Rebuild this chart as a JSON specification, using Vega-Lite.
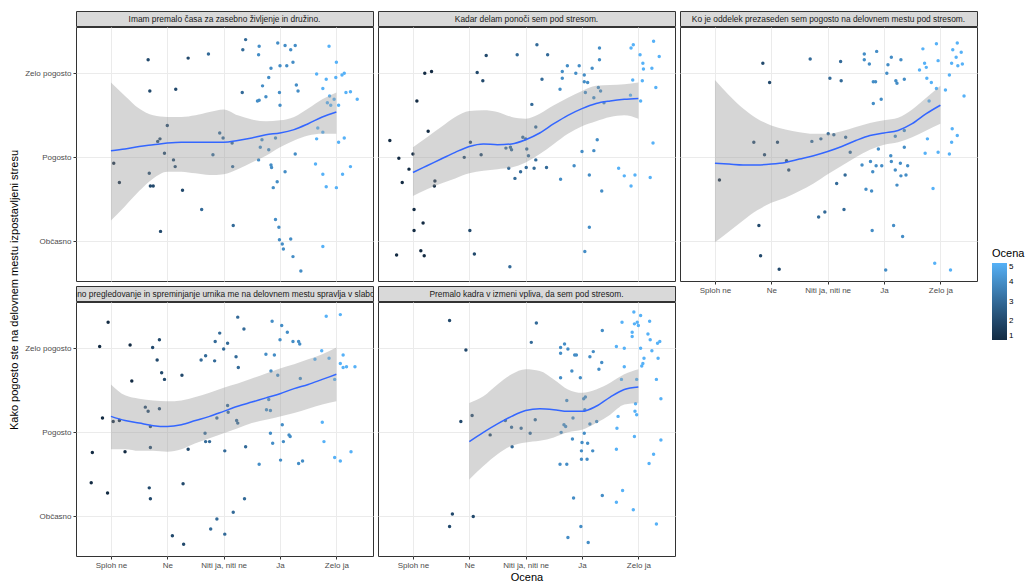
{
"$schema": "https://vega.github.io/schema/vega-lite/v6.json",
"padding": {"left": 9, "top": 10, "right": 2, "bottom": 2},
"datasets": {
"strips": [
{"p":1,"t":"Imam premalo časa za zasebno življenje in družino."},
{"p":2,"t":"Kadar delam ponoči sem pod stresom."},
{"p":3,"t":"Ko je oddelek prezaseden sem pogosto na delovnem mestu pod stresom."},
{"p":4,"t":"Nenehno pregledovanje in spreminjanje urnika me na delovnem mestu spravlja v slabo voljo."},
{"p":5,"t":"Premalo kadra v izmeni vpliva, da sem pod stresom."}
],
"sm": [
{"p":1,"x":1,"y":3.08,"lo":2.25,"hi":3.89},{"p":1,"x":1.25,"y":3.10,"lo":2.42,"hi":3.73},{"p":1,"x":1.5,"y":3.13,"lo":2.60,"hi":3.58},{"p":1,"x":1.75,"y":3.15,"lo":2.75,"hi":3.50},{"p":1,"x":2,"y":3.17,"lo":2.83,"hi":3.48},{"p":1,"x":2.25,"y":3.18,"lo":2.83,"hi":3.48},{"p":1,"x":2.5,"y":3.18,"lo":2.81,"hi":3.50},{"p":1,"x":2.75,"y":3.18,"lo":2.79,"hi":3.54},{"p":1,"x":3,"y":3.18,"lo":2.80,"hi":3.57},{"p":1,"x":3.25,"y":3.20,"lo":2.86,"hi":3.50},{"p":1,"x":3.5,"y":3.23,"lo":2.94,"hi":3.45},{"p":1,"x":3.75,"y":3.27,"lo":3.02,"hi":3.43},{"p":1,"x":4,"y":3.29,"lo":3.12,"hi":3.44},{"p":1,"x":4.25,"y":3.33,"lo":3.20,"hi":3.48},{"p":1,"x":4.5,"y":3.40,"lo":3.26,"hi":3.58},{"p":1,"x":4.75,"y":3.48,"lo":3.28,"hi":3.69},{"p":1,"x":5,"y":3.54,"lo":3.28,"hi":3.77},
{"p":2,"x":1,"y":2.82,"lo":2.54,"hi":3.12},{"p":2,"x":1.25,"y":2.90,"lo":2.62,"hi":3.24},{"p":2,"x":1.5,"y":2.98,"lo":2.69,"hi":3.36},{"p":2,"x":1.75,"y":3.06,"lo":2.75,"hi":3.48},{"p":2,"x":2,"y":3.13,"lo":2.81,"hi":3.55},{"p":2,"x":2.25,"y":3.16,"lo":2.84,"hi":3.56},{"p":2,"x":2.5,"y":3.15,"lo":2.86,"hi":3.54},{"p":2,"x":2.75,"y":3.16,"lo":2.88,"hi":3.48},{"p":2,"x":3,"y":3.21,"lo":2.94,"hi":3.46},{"p":2,"x":3.25,"y":3.29,"lo":3.04,"hi":3.52},{"p":2,"x":3.5,"y":3.40,"lo":3.16,"hi":3.62},{"p":2,"x":3.75,"y":3.50,"lo":3.28,"hi":3.71},{"p":2,"x":4,"y":3.58,"lo":3.37,"hi":3.79},{"p":2,"x":4.25,"y":3.64,"lo":3.43,"hi":3.85},{"p":2,"x":4.5,"y":3.67,"lo":3.48,"hi":3.86},{"p":2,"x":4.75,"y":3.69,"lo":3.50,"hi":3.87},{"p":2,"x":5,"y":3.70,"lo":3.46,"hi":3.89},
{"p":3,"x":1,"y":2.93,"lo":1.99,"hi":3.92},{"p":3,"x":1.25,"y":2.92,"lo":2.12,"hi":3.74},{"p":3,"x":1.5,"y":2.91,"lo":2.25,"hi":3.58},{"p":3,"x":1.75,"y":2.91,"lo":2.37,"hi":3.46},{"p":3,"x":2,"y":2.92,"lo":2.46,"hi":3.38},{"p":3,"x":2.25,"y":2.94,"lo":2.52,"hi":3.33},{"p":3,"x":2.5,"y":2.98,"lo":2.60,"hi":3.30},{"p":3,"x":2.75,"y":3.02,"lo":2.69,"hi":3.28},{"p":3,"x":3,"y":3.07,"lo":2.80,"hi":3.28},{"p":3,"x":3.25,"y":3.13,"lo":2.90,"hi":3.31},{"p":3,"x":3.5,"y":3.20,"lo":3.00,"hi":3.36},{"p":3,"x":3.75,"y":3.26,"lo":3.09,"hi":3.41},{"p":3,"x":4,"y":3.29,"lo":3.15,"hi":3.44},{"p":3,"x":4.25,"y":3.32,"lo":3.18,"hi":3.47},{"p":3,"x":4.5,"y":3.40,"lo":3.24,"hi":3.57},{"p":3,"x":4.75,"y":3.52,"lo":3.32,"hi":3.71},{"p":3,"x":5,"y":3.62,"lo":3.40,"hi":3.85},
{"p":4,"x":1,"y":3.19,"lo":2.80,"hi":3.57},{"p":4,"x":1.25,"y":3.14,"lo":2.80,"hi":3.44},{"p":4,"x":1.5,"y":3.11,"lo":2.78,"hi":3.40},{"p":4,"x":1.75,"y":3.08,"lo":2.78,"hi":3.38},{"p":4,"x":2,"y":3.07,"lo":2.77,"hi":3.37},{"p":4,"x":2.25,"y":3.09,"lo":2.80,"hi":3.38},{"p":4,"x":2.5,"y":3.14,"lo":2.87,"hi":3.42},{"p":4,"x":2.75,"y":3.19,"lo":2.93,"hi":3.47},{"p":4,"x":3,"y":3.25,"lo":2.99,"hi":3.53},{"p":4,"x":3.25,"y":3.31,"lo":3.05,"hi":3.58},{"p":4,"x":3.5,"y":3.36,"lo":3.11,"hi":3.64},{"p":4,"x":3.75,"y":3.41,"lo":3.15,"hi":3.70},{"p":4,"x":4,"y":3.46,"lo":3.19,"hi":3.76},{"p":4,"x":4.25,"y":3.52,"lo":3.23,"hi":3.81},{"p":4,"x":4.5,"y":3.57,"lo":3.28,"hi":3.87},{"p":4,"x":4.75,"y":3.63,"lo":3.33,"hi":3.93},{"p":4,"x":5,"y":3.69,"lo":3.37,"hi":4.01},
{"p":5,"x":2,"y":2.89,"lo":2.44,"hi":3.35},{"p":5,"x":2.25,"y":3.00,"lo":2.60,"hi":3.43},{"p":5,"x":2.5,"y":3.10,"lo":2.74,"hi":3.57},{"p":5,"x":2.75,"y":3.19,"lo":2.84,"hi":3.69},{"p":5,"x":3,"y":3.26,"lo":2.88,"hi":3.75},{"p":5,"x":3.25,"y":3.28,"lo":2.90,"hi":3.73},{"p":5,"x":3.5,"y":3.27,"lo":2.94,"hi":3.63},{"p":5,"x":3.75,"y":3.25,"lo":3.00,"hi":3.51},{"p":5,"x":4,"y":3.25,"lo":3.03,"hi":3.47},{"p":5,"x":4.25,"y":3.31,"lo":3.11,"hi":3.51},{"p":5,"x":4.5,"y":3.42,"lo":3.21,"hi":3.59},{"p":5,"x":4.75,"y":3.51,"lo":3.33,"hi":3.69},{"p":5,"x":5,"y":3.54,"lo":3.35,"hi":3.75}
],
"pts": [
{"p":1,"x":3.39,"y":4.40,"o":3},{"p":1,"x":3.34,"y":4.28,"o":3},{"p":1,"x":3.63,"y":4.32,"o":4},{"p":1,"x":3.62,"y":4.22,"o":4},{"p":1,"x":3.96,"y":4.36,"o":4},{"p":1,"x":4.09,"y":4.33,"o":4},{"p":1,"x":4.19,"y":4.28,"o":4},{"p":1,"x":4.27,"y":4.33,"o":4},{"p":1,"x":4.87,"y":4.32,"o":5},{"p":1,"x":1.66,"y":4.16,"o":2},
{"p":1,"x":2.37,"y":4.18,"o":2},{"p":1,"x":2.73,"y":4.23,"o":3},{"p":1,"x":3.84,"y":4.06,"o":4},{"p":1,"x":4.00,"y":4.09,"o":4},{"p":1,"x":4.12,"y":4.09,"o":4},{"p":1,"x":4.23,"y":4.13,"o":4},{"p":1,"x":3.80,"y":3.95,"o":4},{"p":1,"x":5.00,"y":4.13,"o":5},{"p":1,"x":4.65,"y":3.99,"o":5},{"p":1,"x":4.82,"y":3.93,"o":5},
{"p":1,"x":4.99,"y":3.95,"o":5},{"p":1,"x":5.10,"y":3.98,"o":5},{"p":1,"x":5.14,"y":4.00,"o":5},{"p":1,"x":1.69,"y":3.79,"o":2},{"p":1,"x":2.15,"y":3.81,"o":2},{"p":1,"x":3.33,"y":3.77,"o":3},{"p":1,"x":3.69,"y":3.85,"o":4},{"p":1,"x":3.63,"y":3.68,"o":4},{"p":1,"x":3.60,"y":3.67,"o":4},{"p":1,"x":3.75,"y":3.72,"o":4},
{"p":1,"x":3.99,"y":3.77,"o":4},{"p":1,"x":4.00,"y":3.62,"o":4},{"p":1,"x":4.29,"y":3.86,"o":4},{"p":1,"x":4.32,"y":3.79,"o":4},{"p":1,"x":4.76,"y":3.82,"o":5},{"p":1,"x":4.88,"y":3.73,"o":5},{"p":1,"x":4.96,"y":3.69,"o":5},{"p":1,"x":5.17,"y":3.77,"o":5},{"p":1,"x":5.25,"y":3.78,"o":5},{"p":1,"x":5.37,"y":3.69,"o":5},
{"p":1,"x":4.84,"y":3.65,"o":5},{"p":1,"x":4.90,"y":3.62,"o":5},{"p":1,"x":5.04,"y":3.62,"o":5},{"p":1,"x":2.00,"y":3.38,"o":2},{"p":1,"x":1.87,"y":3.22,"o":2},{"p":1,"x":1.83,"y":3.19,"o":2},{"p":1,"x":2.93,"y":3.29,"o":3},{"p":1,"x":2.99,"y":3.23,"o":3},{"p":1,"x":3.15,"y":3.17,"o":3},{"p":1,"x":3.68,"y":3.21,"o":4},
{"p":1,"x":3.92,"y":3.23,"o":4},{"p":1,"x":3.65,"y":3.12,"o":4},{"p":1,"x":3.80,"y":3.09,"o":4},{"p":1,"x":4.67,"y":3.35,"o":5},{"p":1,"x":4.76,"y":3.30,"o":5},{"p":1,"x":4.65,"y":3.22,"o":5},{"p":1,"x":5.04,"y":3.18,"o":5},{"p":1,"x":5.14,"y":3.23,"o":5},{"p":1,"x":1.95,"y":3.05,"o":2},{"p":1,"x":2.11,"y":2.97,"o":2},
{"p":1,"x":2.81,"y":3.03,"o":3},{"p":1,"x":1.05,"y":2.93,"o":1},{"p":1,"x":2.14,"y":2.89,"o":2},{"p":1,"x":3.16,"y":2.89,"o":3},{"p":1,"x":3.62,"y":2.97,"o":4},{"p":1,"x":3.84,"y":2.91,"o":4},{"p":1,"x":3.85,"y":2.88,"o":4},{"p":1,"x":4.09,"y":2.83,"o":4},{"p":1,"x":4.27,"y":3.04,"o":4},{"p":1,"x":4.63,"y":2.92,"o":5},
{"p":1,"x":5.25,"y":2.89,"o":5},{"p":1,"x":1.15,"y":2.70,"o":1},{"p":1,"x":1.68,"y":2.81,"o":2},{"p":1,"x":1.70,"y":2.66,"o":2},{"p":1,"x":1.75,"y":2.66,"o":2},{"p":1,"x":2.27,"y":2.61,"o":2},{"p":1,"x":3.95,"y":2.71,"o":4},{"p":1,"x":3.88,"y":2.64,"o":4},{"p":1,"x":4.76,"y":2.80,"o":5},{"p":1,"x":4.82,"y":2.65,"o":5},
{"p":1,"x":5.00,"y":2.64,"o":5},{"p":1,"x":5.11,"y":2.80,"o":5},{"p":1,"x":2.61,"y":2.38,"o":3},{"p":1,"x":3.17,"y":2.19,"o":3},{"p":1,"x":3.92,"y":2.26,"o":4},{"p":1,"x":3.98,"y":2.17,"o":4},{"p":1,"x":1.88,"y":2.12,"o":2},{"p":1,"x":3.99,"y":2.02,"o":4},{"p":1,"x":4.06,"y":1.91,"o":4},{"p":1,"x":4.19,"y":2.03,"o":4},
{"p":1,"x":4.04,"y":1.97,"o":4},{"p":1,"x":4.76,"y":1.94,"o":5},{"p":1,"x":4.23,"y":1.82,"o":4},{"p":1,"x":4.37,"y":1.65,"o":4},
{"p":2,"x":3.20,"y":4.34,"o":3},{"p":2,"x":2.85,"y":4.22,"o":3},{"p":2,"x":2.30,"y":4.21,"o":2},{"p":2,"x":3.39,"y":4.22,"o":3},{"p":2,"x":4.31,"y":4.30,"o":4},{"p":2,"x":4.31,"y":4.16,"o":4},{"p":2,"x":4.87,"y":4.30,"o":5},{"p":2,"x":4.91,"y":4.34,"o":5},{"p":2,"x":5.27,"y":4.38,"o":5},{"p":2,"x":5.03,"y":4.22,"o":5},
{"p":2,"x":5.08,"y":4.12,"o":5},{"p":2,"x":5.09,"y":4.05,"o":5},{"p":2,"x":5.37,"y":4.20,"o":5},{"p":2,"x":5.24,"y":4.06,"o":5},{"p":2,"x":1.21,"y":4.00,"o":1},{"p":2,"x":1.33,"y":4.02,"o":1},{"p":2,"x":2.14,"y":4.01,"o":2},{"p":2,"x":2.24,"y":3.91,"o":2},{"p":2,"x":3.29,"y":3.93,"o":3},{"p":2,"x":3.65,"y":4.02,"o":4},
{"p":2,"x":3.74,"y":4.09,"o":4},{"p":2,"x":3.95,"y":4.09,"o":4},{"p":2,"x":3.89,"y":4.00,"o":4},{"p":2,"x":4.04,"y":3.98,"o":4},{"p":2,"x":4.18,"y":4.06,"o":4},{"p":2,"x":3.65,"y":3.94,"o":4},{"p":2,"x":4.04,"y":3.90,"o":4},{"p":2,"x":4.10,"y":3.89,"o":4},{"p":2,"x":3.61,"y":3.81,"o":4},{"p":2,"x":4.06,"y":3.77,"o":4},
{"p":2,"x":4.29,"y":3.83,"o":4},{"p":2,"x":4.33,"y":3.79,"o":4},{"p":2,"x":4.21,"y":3.71,"o":4},{"p":2,"x":4.90,"y":3.92,"o":5},{"p":2,"x":5.07,"y":3.91,"o":5},{"p":2,"x":5.31,"y":3.83,"o":5},{"p":2,"x":1.07,"y":3.67,"o":1},{"p":2,"x":3.11,"y":3.63,"o":3},{"p":2,"x":4.86,"y":3.74,"o":5},{"p":2,"x":4.39,"y":3.65,"o":4},
{"p":2,"x":5.04,"y":3.67,"o":5},{"p":2,"x":1.27,"y":3.31,"o":1},{"p":2,"x":3.18,"y":3.36,"o":3},{"p":2,"x":0.59,"y":3.20,"o":1},{"p":2,"x":2.02,"y":3.18,"o":2},{"p":2,"x":2.95,"y":3.24,"o":3},{"p":2,"x":3.00,"y":3.22,"o":3},{"p":2,"x":2.65,"y":3.11,"o":3},{"p":2,"x":2.73,"y":3.12,"o":3},{"p":2,"x":2.75,"y":3.09,"o":3},
{"p":2,"x":3.02,"y":3.10,"o":3},{"p":2,"x":0.75,"y":2.99,"o":1},{"p":2,"x":1.00,"y":3.04,"o":1},{"p":2,"x":1.91,"y":3.00,"o":2},{"p":2,"x":2.21,"y":3.03,"o":2},{"p":2,"x":3.05,"y":3.02,"o":3},{"p":2,"x":3.18,"y":2.97,"o":3},{"p":2,"x":4.27,"y":3.21,"o":4},{"p":2,"x":5.26,"y":3.17,"o":5},{"p":2,"x":0.93,"y":2.86,"o":1},
{"p":2,"x":0.81,"y":2.70,"o":1},{"p":2,"x":1.39,"y":2.72,"o":1},{"p":2,"x":1.38,"y":2.66,"o":1},{"p":2,"x":2.70,"y":2.87,"o":3},{"p":2,"x":2.81,"y":2.75,"o":3},{"p":2,"x":2.91,"y":2.83,"o":3},{"p":2,"x":3.01,"y":2.88,"o":3},{"p":2,"x":3.15,"y":2.87,"o":3},{"p":2,"x":3.37,"y":2.88,"o":3},{"p":2,"x":3.62,"y":2.74,"o":4},
{"p":2,"x":3.86,"y":2.90,"o":4},{"p":2,"x":4.00,"y":3.07,"o":4},{"p":2,"x":4.21,"y":3.08,"o":4},{"p":2,"x":4.13,"y":2.79,"o":4},{"p":2,"x":4.35,"y":2.60,"o":4},{"p":2,"x":4.65,"y":2.87,"o":5},{"p":2,"x":4.75,"y":2.78,"o":5},{"p":2,"x":4.94,"y":2.79,"o":5},{"p":2,"x":4.87,"y":2.66,"o":5},{"p":2,"x":5.21,"y":2.76,"o":5},
{"p":2,"x":1.02,"y":2.38,"o":1},{"p":2,"x":1.18,"y":2.22,"o":1},{"p":2,"x":1.02,"y":2.13,"o":1},{"p":2,"x":2.01,"y":2.13,"o":2},{"p":2,"x":4.13,"y":2.17,"o":4},{"p":2,"x":0.71,"y":1.84,"o":1},{"p":2,"x":1.14,"y":1.89,"o":1},{"p":2,"x":1.20,"y":1.83,"o":1},{"p":2,"x":2.09,"y":1.85,"o":2},{"p":2,"x":4.05,"y":1.88,"o":4},
{"p":2,"x":2.72,"y":1.70,"o":3},
{"p":3,"x":3.65,"y":4.23,"o":4},{"p":3,"x":3.65,"y":4.16,"o":4},{"p":3,"x":3.74,"y":4.11,"o":4},{"p":3,"x":3.87,"y":4.26,"o":4},{"p":3,"x":4.13,"y":4.19,"o":4},{"p":3,"x":4.07,"y":4.10,"o":4},{"p":3,"x":4.30,"y":4.16,"o":4},{"p":3,"x":4.05,"y":4.00,"o":4},{"p":3,"x":3.85,"y":3.90,"o":4},{"p":3,"x":3.81,"y":3.90,"o":4},
{"p":3,"x":4.21,"y":3.91,"o":4},{"p":3,"x":4.23,"y":3.88,"o":4},{"p":3,"x":4.36,"y":3.93,"o":4},{"p":3,"x":4.69,"y":4.29,"o":5},{"p":3,"x":4.93,"y":4.35,"o":5},{"p":3,"x":4.72,"y":4.12,"o":5},{"p":3,"x":4.63,"y":4.04,"o":5},{"p":3,"x":4.75,"y":4.07,"o":5},{"p":3,"x":4.96,"y":4.15,"o":5},{"p":3,"x":4.76,"y":3.94,"o":5},
{"p":3,"x":4.84,"y":3.89,"o":5},{"p":3,"x":5.22,"y":4.28,"o":5},{"p":3,"x":5.30,"y":4.36,"o":5},{"p":3,"x":5.37,"y":4.25,"o":5},{"p":3,"x":5.28,"y":4.19,"o":5},{"p":3,"x":5.20,"y":4.12,"o":5},{"p":3,"x":5.31,"y":4.09,"o":5},{"p":3,"x":5.39,"y":4.11,"o":5},{"p":3,"x":5.16,"y":3.98,"o":5},{"p":3,"x":1.85,"y":4.12,"o":2},
{"p":3,"x":1.97,"y":3.89,"o":2},{"p":3,"x":2.69,"y":4.17,"o":3},{"p":3,"x":3.23,"y":4.14,"o":3},{"p":3,"x":3.04,"y":3.94,"o":3},{"p":3,"x":3.24,"y":3.91,"o":3},{"p":3,"x":5.09,"y":3.80,"o":5},{"p":3,"x":5.42,"y":3.73,"o":5},{"p":3,"x":3.81,"y":3.64,"o":4},{"p":3,"x":3.95,"y":3.69,"o":4},{"p":3,"x":4.80,"y":3.67,"o":5},
{"p":3,"x":4.93,"y":3.82,"o":5},{"p":3,"x":5.21,"y":3.34,"o":5},{"p":3,"x":5.30,"y":3.26,"o":5},{"p":3,"x":1.69,"y":3.18,"o":2},{"p":3,"x":1.88,"y":3.03,"o":2},{"p":3,"x":2.11,"y":3.18,"o":2},{"p":3,"x":2.72,"y":3.19,"o":3},{"p":3,"x":2.88,"y":3.22,"o":3},{"p":3,"x":3.01,"y":3.28,"o":3},{"p":3,"x":3.11,"y":3.27,"o":3},
{"p":3,"x":3.32,"y":3.24,"o":3},{"p":3,"x":3.40,"y":3.06,"o":3},{"p":3,"x":2.27,"y":2.96,"o":2},{"p":3,"x":2.31,"y":2.85,"o":2},{"p":3,"x":4.20,"y":3.25,"o":4},{"p":3,"x":4.36,"y":3.32,"o":4},{"p":3,"x":4.77,"y":3.22,"o":5},{"p":3,"x":5.20,"y":3.18,"o":5},{"p":3,"x":3.90,"y":3.10,"o":4},{"p":3,"x":4.36,"y":3.12,"o":4},
{"p":3,"x":4.73,"y":3.05,"o":5},{"p":3,"x":4.96,"y":3.06,"o":5},{"p":3,"x":5.16,"y":3.04,"o":5},{"p":3,"x":3.61,"y":2.91,"o":4},{"p":3,"x":3.76,"y":2.95,"o":4},{"p":3,"x":3.86,"y":2.90,"o":4},{"p":3,"x":3.96,"y":2.90,"o":4},{"p":3,"x":4.12,"y":3.02,"o":4},{"p":3,"x":4.13,"y":2.95,"o":4},{"p":3,"x":4.29,"y":2.93,"o":4},
{"p":3,"x":4.42,"y":2.90,"o":4},{"p":3,"x":3.80,"y":2.83,"o":4},{"p":3,"x":4.20,"y":2.85,"o":4},{"p":3,"x":4.30,"y":2.78,"o":4},{"p":3,"x":4.39,"y":2.79,"o":4},{"p":3,"x":4.23,"y":2.67,"o":4},{"p":3,"x":4.87,"y":2.63,"o":5},{"p":3,"x":3.16,"y":2.69,"o":3},{"p":3,"x":3.31,"y":2.79,"o":3},{"p":3,"x":1.08,"y":2.73,"o":1},
{"p":3,"x":3.68,"y":2.62,"o":4},{"p":3,"x":3.78,"y":2.60,"o":4},{"p":3,"x":2.84,"y":2.29,"o":3},{"p":3,"x":2.95,"y":2.35,"o":3},{"p":3,"x":3.29,"y":2.38,"o":3},{"p":3,"x":1.78,"y":2.19,"o":2},{"p":3,"x":4.17,"y":2.19,"o":4},{"p":3,"x":3.79,"y":2.13,"o":4},{"p":3,"x":4.33,"y":2.06,"o":4},{"p":3,"x":1.81,"y":1.83,"o":2},
{"p":3,"x":2.14,"y":1.67,"o":2},{"p":3,"x":4.03,"y":1.66,"o":4},{"p":3,"x":4.90,"y":1.74,"o":5},{"p":3,"x":5.18,"y":1.66,"o":5},
{"p":4,"x":0.95,"y":4.31,"o":1},{"p":4,"x":0.80,"y":4.02,"o":1},{"p":4,"x":1.34,"y":4.04,"o":1},{"p":4,"x":1.86,"y":4.10,"o":2},{"p":4,"x":1.74,"y":4.01,"o":2},{"p":4,"x":1.82,"y":3.86,"o":2},{"p":4,"x":1.90,"y":3.71,"o":2},{"p":4,"x":1.95,"y":3.63,"o":2},{"p":4,"x":1.37,"y":3.61,"o":1},{"p":4,"x":2.26,"y":3.68,"o":2},
{"p":4,"x":0.85,"y":3.17,"o":1},{"p":4,"x":1.04,"y":3.13,"o":1},{"p":4,"x":1.15,"y":3.14,"o":1},{"p":4,"x":1.61,"y":3.30,"o":2},{"p":4,"x":1.66,"y":3.25,"o":2},{"p":4,"x":1.86,"y":3.28,"o":2},{"p":4,"x":1.70,"y":3.07,"o":2},{"p":4,"x":1.70,"y":2.82,"o":2},{"p":4,"x":1.25,"y":2.77,"o":1},{"p":4,"x":0.67,"y":2.76,"o":1},
{"p":4,"x":0.65,"y":2.40,"o":1},{"p":4,"x":0.94,"y":2.28,"o":1},{"p":4,"x":1.68,"y":2.34,"o":2},{"p":4,"x":1.70,"y":2.21,"o":2},{"p":4,"x":2.28,"y":2.39,"o":2},{"p":4,"x":2.37,"y":2.80,"o":2},{"p":4,"x":2.09,"y":1.77,"o":2},{"p":4,"x":2.29,"y":1.67,"o":2},{"p":4,"x":2.67,"y":2.99,"o":3},{"p":4,"x":2.68,"y":2.89,"o":3},
{"p":4,"x":2.75,"y":2.89,"o":3},{"p":4,"x":3.02,"y":2.78,"o":3},{"p":4,"x":3.39,"y":2.83,"o":3},{"p":4,"x":3.37,"y":2.21,"o":3},{"p":4,"x":3.17,"y":2.05,"o":3},{"p":4,"x":2.88,"y":1.97,"o":3},{"p":4,"x":2.77,"y":1.85,"o":3},{"p":4,"x":3.02,"y":1.79,"o":3},{"p":4,"x":2.60,"y":3.86,"o":3},{"p":4,"x":2.68,"y":3.91,"o":3},
{"p":4,"x":2.84,"y":3.85,"o":3},{"p":4,"x":2.85,"y":4.08,"o":3},{"p":4,"x":2.93,"y":4.18,"o":3},{"p":4,"x":3.00,"y":3.99,"o":3},{"p":4,"x":3.07,"y":4.06,"o":3},{"p":4,"x":3.22,"y":3.90,"o":3},{"p":4,"x":3.26,"y":3.77,"o":3},{"p":4,"x":3.25,"y":4.37,"o":3},{"p":4,"x":3.36,"y":4.23,"o":3},{"p":4,"x":2.88,"y":3.17,"o":3},
{"p":4,"x":3.07,"y":3.32,"o":3},{"p":4,"x":3.08,"y":3.24,"o":3},{"p":4,"x":3.25,"y":3.11,"o":3},{"p":4,"x":3.23,"y":3.14,"o":3},{"p":4,"x":3.86,"y":4.32,"o":4},{"p":4,"x":4.03,"y":4.27,"o":4},{"p":4,"x":4.00,"y":4.10,"o":4},{"p":4,"x":4.13,"y":4.19,"o":4},{"p":4,"x":4.23,"y":4.08,"o":4},{"p":4,"x":4.33,"y":4.08,"o":4},
{"p":4,"x":4.35,"y":4.05,"o":4},{"p":4,"x":3.75,"y":3.93,"o":4},{"p":4,"x":3.90,"y":3.92,"o":4},{"p":4,"x":3.84,"y":3.73,"o":4},{"p":4,"x":3.96,"y":3.68,"o":4},{"p":4,"x":3.80,"y":3.39,"o":4},{"p":4,"x":3.76,"y":3.27,"o":4},{"p":4,"x":3.83,"y":3.26,"o":4},{"p":4,"x":4.04,"y":3.09,"o":4},{"p":4,"x":3.83,"y":2.99,"o":4},
{"p":4,"x":3.87,"y":2.87,"o":4},{"p":4,"x":4.06,"y":2.89,"o":4},{"p":4,"x":4.16,"y":2.97,"o":4},{"p":4,"x":4.18,"y":2.95,"o":4},{"p":4,"x":4.01,"y":2.67,"o":4},{"p":4,"x":3.63,"y":2.62,"o":4},{"p":4,"x":4.33,"y":2.63,"o":4},{"p":4,"x":4.40,"y":2.66,"o":4},{"p":4,"x":4.36,"y":3.64,"o":4},{"p":4,"x":4.75,"y":3.12,"o":5},
{"p":4,"x":4.78,"y":2.89,"o":5},{"p":4,"x":4.62,"y":3.87,"o":5},{"p":4,"x":4.74,"y":3.97,"o":5},{"p":4,"x":4.82,"y":4.38,"o":5},{"p":4,"x":4.87,"y":3.88,"o":5},{"p":4,"x":5.07,"y":4.40,"o":5},{"p":4,"x":5.12,"y":3.92,"o":5},{"p":4,"x":5.07,"y":3.82,"o":5},{"p":4,"x":5.18,"y":3.78,"o":5},{"p":4,"x":5.12,"y":3.77,"o":5},
{"p":4,"x":5.33,"y":3.78,"o":5},{"p":4,"x":4.97,"y":3.63,"o":5},{"p":4,"x":4.97,"y":2.70,"o":5},{"p":4,"x":5.07,"y":2.66,"o":5},{"p":4,"x":5.26,"y":2.77,"o":5},
{"p":5,"x":1.65,"y":4.33,"o":2},{"p":5,"x":1.94,"y":3.98,"o":2},{"p":5,"x":1.85,"y":3.13,"o":2},{"p":5,"x":2.05,"y":3.20,"o":2},{"p":5,"x":2.37,"y":2.97,"o":2},{"p":5,"x":1.65,"y":1.88,"o":2},{"p":5,"x":1.70,"y":2.03,"o":2},{"p":5,"x":2.07,"y":2.00,"o":2},{"p":5,"x":3.19,"y":4.30,"o":3},{"p":5,"x":3.10,"y":4.07,"o":3},
{"p":5,"x":2.76,"y":2.83,"o":3},{"p":5,"x":2.64,"y":3.14,"o":3},{"p":5,"x":2.75,"y":3.06,"o":3},{"p":5,"x":2.92,"y":3.05,"o":3},{"p":5,"x":3.08,"y":2.99,"o":3},{"p":5,"x":3.17,"y":3.15,"o":3},{"p":5,"x":3.62,"y":4.01,"o":4},{"p":5,"x":3.69,"y":4.05,"o":4},{"p":5,"x":3.75,"y":3.99,"o":4},{"p":5,"x":3.62,"y":3.94,"o":4},
{"p":5,"x":3.87,"y":3.92,"o":4},{"p":5,"x":3.90,"y":3.92,"o":4},{"p":5,"x":3.82,"y":3.73,"o":4},{"p":5,"x":3.62,"y":3.65,"o":4},{"p":5,"x":3.97,"y":3.65,"o":4},{"p":5,"x":4.14,"y":3.90,"o":4},{"p":5,"x":4.20,"y":3.96,"o":4},{"p":5,"x":4.35,"y":3.83,"o":4},{"p":5,"x":4.30,"y":3.75,"o":4},{"p":5,"x":4.36,"y":4.21,"o":4},
{"p":5,"x":3.73,"y":3.38,"o":4},{"p":5,"x":3.68,"y":3.09,"o":4},{"p":5,"x":3.71,"y":3.07,"o":4},{"p":5,"x":3.84,"y":3.17,"o":4},{"p":5,"x":3.63,"y":3.00,"o":4},{"p":5,"x":3.83,"y":2.92,"o":4},{"p":5,"x":4.03,"y":3.40,"o":4},{"p":5,"x":4.06,"y":3.42,"o":4},{"p":5,"x":4.05,"y":3.27,"o":4},{"p":5,"x":4.14,"y":3.10,"o":4},
{"p":5,"x":4.26,"y":3.13,"o":4},{"p":5,"x":4.04,"y":2.99,"o":4},{"p":5,"x":4.10,"y":2.87,"o":4},{"p":5,"x":4.00,"y":2.88,"o":4},{"p":5,"x":3.99,"y":2.78,"o":4},{"p":5,"x":4.09,"y":2.68,"o":4},{"p":5,"x":4.19,"y":2.78,"o":4},{"p":5,"x":3.99,"y":2.68,"o":4},{"p":5,"x":3.61,"y":2.62,"o":4},{"p":5,"x":3.73,"y":2.62,"o":4},
{"p":5,"x":3.85,"y":2.22,"o":4},{"p":5,"x":3.75,"y":1.75,"o":4},{"p":5,"x":3.98,"y":1.88,"o":4},{"p":5,"x":4.11,"y":1.69,"o":4},{"p":5,"x":4.36,"y":2.25,"o":4},{"p":5,"x":4.61,"y":4.02,"o":5},{"p":5,"x":4.75,"y":4.00,"o":5},{"p":5,"x":4.71,"y":4.31,"o":5},{"p":5,"x":4.89,"y":4.19,"o":5},{"p":5,"x":4.89,"y":4.14,"o":5},
{"p":5,"x":4.93,"y":4.29,"o":5},{"p":5,"x":4.98,"y":4.31,"o":5},{"p":5,"x":5.00,"y":4.27,"o":5},{"p":5,"x":4.92,"y":4.43,"o":5},{"p":5,"x":5.04,"y":4.39,"o":5},{"p":5,"x":5.20,"y":4.32,"o":5},{"p":5,"x":5.17,"y":4.17,"o":5},{"p":5,"x":5.21,"y":4.10,"o":5},{"p":5,"x":5.38,"y":4.08,"o":5},{"p":5,"x":5.34,"y":4.06,"o":5},
{"p":5,"x":5.04,"y":4.00,"o":5},{"p":5,"x":5.24,"y":3.97,"o":5},{"p":5,"x":5.35,"y":3.88,"o":5},{"p":5,"x":5.10,"y":3.88,"o":5},{"p":5,"x":5.08,"y":3.82,"o":5},{"p":5,"x":5.06,"y":3.79,"o":5},{"p":5,"x":4.75,"y":3.78,"o":5},{"p":5,"x":4.70,"y":3.63,"o":5},{"p":5,"x":4.97,"y":3.63,"o":5},{"p":5,"x":5.32,"y":3.63,"o":5},
{"p":5,"x":5.40,"y":3.40,"o":5},{"p":5,"x":4.64,"y":3.19,"o":5},{"p":5,"x":4.62,"y":3.05,"o":5},{"p":5,"x":4.61,"y":2.80,"o":5},{"p":5,"x":4.95,"y":3.34,"o":5},{"p":5,"x":4.94,"y":3.25,"o":5},{"p":5,"x":4.97,"y":3.21,"o":5},{"p":5,"x":4.93,"y":2.95,"o":5},{"p":5,"x":5.40,"y":2.91,"o":5},{"p":5,"x":5.27,"y":2.74,"o":5},
{"p":5,"x":5.19,"y":2.63,"o":5},{"p":5,"x":4.72,"y":2.31,"o":5},{"p":5,"x":4.61,"y":2.17,"o":5},{"p":5,"x":4.91,"y":2.08,"o":5},{"p":5,"x":5.32,"y":1.91,"o":5}
]
},
"spacing": 3,
"resolve": {"scale": {"color": "shared"}, "legend": {"color": "shared"}},
"hconcat": [
{
"title": {"text": "Kako pogosto ste na delovnem mestu izpostavljeni stresu", "orient": "left", "anchor": "middle", "fontSize": 11, "fontWeight": "normal", "color": "#000000", "offset": 4, "font": "Liberation Sans"},
"spacing": 3,
"resolve": {"scale": {"color": "shared"}, "legend": {"color": "shared"}},
"vconcat": [
{"spacing": -2, "resolve": {"scale": {"color": "shared"}, "legend": {"color": "shared"}}, "vconcat": [
{"width": 297, "height": 15, "data": {"name": "strips"}, "transform": [{"filter": "datum.p == 1"}], "view": {"fill": "#D9D9D9", "stroke": "#333333"}, "mark": {"type": "text", "fontSize": 8.4, "color": "#1A1A1A", "clip": true, "font": "Liberation Sans"}, "encoding": {"text": {"field": "t"}}},
{"width": 297, "height": 254, "resolve": {"axis": {"x": "independent", "y": "independent"}}, "layer": [
{"data": {"name": "pts"}, "transform": [{"filter": "datum.p == 1"}], "mark": {"type": "circle", "size": 12, "opacity": 1},
"encoding": {
"x": {"field": "x", "type": "quantitative", "scale": {"domain": [0.38, 5.65], "nice": false, "zero": false}, "axis": {"values": [1,2,3,4,5], "labels": false, "ticks": false, "title": null}},
"y": {"field": "y", "type": "quantitative", "scale": {"domain": [1.53, 4.55], "nice": false, "zero": false}, "axis": {"values": [2,3,4], "labelExpr": "datum.value == 2 ? 'Občasno' : datum.value == 3 ? 'Pogosto' : 'Zelo pogosto'", "title": null}},
"color": {"field": "o", "type": "quantitative", "scale": {"domain": [1,5], "range": ["#132B43","#56B1F7"], "interpolate": "lab"}, "legend": {"title": "Ocena", "values": [1,2,3,4,5]}}}},
{"data": {"name": "sm"}, "transform": [{"filter": "datum.p == 1"}], "mark": {"type": "area", "color": "#999999", "opacity": 0.4, "interpolate": "monotone"},
"encoding": {
"x": {"field": "x", "type": "quantitative", "scale": {"domain": [0.38, 5.65], "nice": false, "zero": false}, "axis": {"orient": "bottom", "values": [0.5,1.5,2.5,3.5,4.5,5.5], "labels": false, "ticks": false, "title": null, "gridColor": "#F2F2F2", "gridWidth": 0.6}},
"y": {"field": "lo", "type": "quantitative", "scale": {"domain": [1.53, 4.55], "nice": false, "zero": false}, "axis": {"orient": "left", "values": [2.5,3.5,4.5], "labels": false, "ticks": false, "title": null, "gridColor": "#F2F2F2", "gridWidth": 0.6}},
"y2": {"field": "hi"}}},
{"data": {"name": "sm"}, "transform": [{"filter": "datum.p == 1"}], "mark": {"type": "line", "color": "#3366FF", "strokeWidth": 1.5, "interpolate": "monotone"},
"encoding": {
"x": {"field": "x", "type": "quantitative", "scale": {"domain": [0.38, 5.65], "nice": false, "zero": false}, "axis": null},
"y": {"field": "y", "type": "quantitative", "scale": {"domain": [1.53, 4.55], "nice": false, "zero": false}, "axis": null}}}
]}
]},
{"spacing": -2, "resolve": {"scale": {"color": "shared"}, "legend": {"color": "shared"}}, "vconcat": [
{"width": 297, "height": 15, "data": {"name": "strips"}, "transform": [{"filter": "datum.p == 4"}], "view": {"fill": "#D9D9D9", "stroke": "#333333"}, "mark": {"type": "text", "fontSize": 8.4, "color": "#1A1A1A", "clip": true, "font": "Liberation Sans"}, "encoding": {"text": {"field": "t"}}},
{"width": 297, "height": 254, "resolve": {"axis": {"x": "independent", "y": "independent"}}, "layer": [
{"data": {"name": "pts"}, "transform": [{"filter": "datum.p == 4"}], "mark": {"type": "circle", "size": 12, "opacity": 1},
"encoding": {
"x": {"field": "x", "type": "quantitative", "scale": {"domain": [0.38, 5.65], "nice": false, "zero": false}, "axis": {"values": [1,2,3,4,5], "labelExpr": "['','Sploh ne','Ne','Niti ja, niti ne','Ja','Zelo ja'][datum.value]", "labelOverlap": false, "labelFlush": false, "title": null}},
"y": {"field": "y", "type": "quantitative", "scale": {"domain": [1.53, 4.55], "nice": false, "zero": false}, "axis": {"values": [2,3,4], "labelExpr": "datum.value == 2 ? 'Občasno' : datum.value == 3 ? 'Pogosto' : 'Zelo pogosto'", "title": null}},
"color": {"field": "o", "type": "quantitative", "scale": {"domain": [1,5], "range": ["#132B43","#56B1F7"], "interpolate": "lab"}, "legend": {"title": "Ocena", "values": [1,2,3,4,5]}}}},
{"data": {"name": "sm"}, "transform": [{"filter": "datum.p == 4"}], "mark": {"type": "area", "color": "#999999", "opacity": 0.4, "interpolate": "monotone"},
"encoding": {
"x": {"field": "x", "type": "quantitative", "scale": {"domain": [0.38, 5.65], "nice": false, "zero": false}, "axis": {"orient": "bottom", "values": [0.5,1.5,2.5,3.5,4.5,5.5], "labels": false, "ticks": false, "title": null, "gridColor": "#F2F2F2", "gridWidth": 0.6}},
"y": {"field": "lo", "type": "quantitative", "scale": {"domain": [1.53, 4.55], "nice": false, "zero": false}, "axis": {"orient": "left", "values": [2.5,3.5,4.5], "labels": false, "ticks": false, "title": null, "gridColor": "#F2F2F2", "gridWidth": 0.6}},
"y2": {"field": "hi"}}},
{"data": {"name": "sm"}, "transform": [{"filter": "datum.p == 4"}], "mark": {"type": "line", "color": "#3366FF", "strokeWidth": 1.5, "interpolate": "monotone"},
"encoding": {
"x": {"field": "x", "type": "quantitative", "scale": {"domain": [0.38, 5.65], "nice": false, "zero": false}, "axis": null},
"y": {"field": "y", "type": "quantitative", "scale": {"domain": [1.53, 4.55], "nice": false, "zero": false}, "axis": null}}}
]}
]}
]
},
{
"spacing": 3,
"resolve": {"scale": {"color": "shared"}, "legend": {"color": "shared"}},
"vconcat": [
{"spacing": -2, "resolve": {"scale": {"color": "shared"}, "legend": {"color": "shared"}}, "vconcat": [
{"width": 297, "height": 15, "data": {"name": "strips"}, "transform": [{"filter": "datum.p == 2"}], "view": {"fill": "#D9D9D9", "stroke": "#333333"}, "mark": {"type": "text", "fontSize": 8.4, "color": "#1A1A1A", "clip": true, "font": "Liberation Sans"}, "encoding": {"text": {"field": "t"}}},
{"width": 297, "height": 254, "resolve": {"axis": {"x": "independent", "y": "independent"}}, "layer": [
{"data": {"name": "pts"}, "transform": [{"filter": "datum.p == 2"}], "mark": {"type": "circle", "size": 12, "opacity": 1},
"encoding": {
"x": {"field": "x", "type": "quantitative", "scale": {"domain": [0.38, 5.65], "nice": false, "zero": false}, "axis": {"values": [1,2,3,4,5], "labels": false, "ticks": false, "title": null}},
"y": {"field": "y", "type": "quantitative", "scale": {"domain": [1.53, 4.55], "nice": false, "zero": false}, "axis": {"values": [2,3,4], "labels": false, "ticks": false, "title": null}},
"color": {"field": "o", "type": "quantitative", "scale": {"domain": [1,5], "range": ["#132B43","#56B1F7"], "interpolate": "lab"}, "legend": {"title": "Ocena", "values": [1,2,3,4,5]}}}},
{"data": {"name": "sm"}, "transform": [{"filter": "datum.p == 2"}], "mark": {"type": "area", "color": "#999999", "opacity": 0.4, "interpolate": "monotone"},
"encoding": {
"x": {"field": "x", "type": "quantitative", "scale": {"domain": [0.38, 5.65], "nice": false, "zero": false}, "axis": {"orient": "bottom", "values": [0.5,1.5,2.5,3.5,4.5,5.5], "labels": false, "ticks": false, "title": null, "gridColor": "#F2F2F2", "gridWidth": 0.6}},
"y": {"field": "lo", "type": "quantitative", "scale": {"domain": [1.53, 4.55], "nice": false, "zero": false}, "axis": {"orient": "left", "values": [2.5,3.5,4.5], "labels": false, "ticks": false, "title": null, "gridColor": "#F2F2F2", "gridWidth": 0.6}},
"y2": {"field": "hi"}}},
{"data": {"name": "sm"}, "transform": [{"filter": "datum.p == 2"}], "mark": {"type": "line", "color": "#3366FF", "strokeWidth": 1.5, "interpolate": "monotone"},
"encoding": {
"x": {"field": "x", "type": "quantitative", "scale": {"domain": [0.38, 5.65], "nice": false, "zero": false}, "axis": null},
"y": {"field": "y", "type": "quantitative", "scale": {"domain": [1.53, 4.55], "nice": false, "zero": false}, "axis": null}}}
]}
]},
{"spacing": -2, "resolve": {"scale": {"color": "shared"}, "legend": {"color": "shared"}}, "vconcat": [
{"width": 297, "height": 15, "data": {"name": "strips"}, "transform": [{"filter": "datum.p == 5"}], "view": {"fill": "#D9D9D9", "stroke": "#333333"}, "mark": {"type": "text", "fontSize": 8.4, "color": "#1A1A1A", "clip": true, "font": "Liberation Sans"}, "encoding": {"text": {"field": "t"}}},
{"width": 297, "height": 254, "resolve": {"axis": {"x": "independent", "y": "independent"}}, "layer": [
{"data": {"name": "pts"}, "transform": [{"filter": "datum.p == 5"}], "mark": {"type": "circle", "size": 12, "opacity": 1},
"encoding": {
"x": {"field": "x", "type": "quantitative", "scale": {"domain": [0.38, 5.65], "nice": false, "zero": false}, "axis": {"values": [1,2,3,4,5], "labelExpr": "['','Sploh ne','Ne','Niti ja, niti ne','Ja','Zelo ja'][datum.value]", "labelOverlap": false, "labelFlush": false, "title": "Ocena", "titlePadding": 2}},
"y": {"field": "y", "type": "quantitative", "scale": {"domain": [1.53, 4.55], "nice": false, "zero": false}, "axis": {"values": [2,3,4], "labels": false, "ticks": false, "title": null}},
"color": {"field": "o", "type": "quantitative", "scale": {"domain": [1,5], "range": ["#132B43","#56B1F7"], "interpolate": "lab"}, "legend": {"title": "Ocena", "values": [1,2,3,4,5]}}}},
{"data": {"name": "sm"}, "transform": [{"filter": "datum.p == 5"}], "mark": {"type": "area", "color": "#999999", "opacity": 0.4, "interpolate": "monotone"},
"encoding": {
"x": {"field": "x", "type": "quantitative", "scale": {"domain": [0.38, 5.65], "nice": false, "zero": false}, "axis": {"orient": "bottom", "values": [0.5,1.5,2.5,3.5,4.5,5.5], "labels": false, "ticks": false, "title": null, "gridColor": "#F2F2F2", "gridWidth": 0.6}},
"y": {"field": "lo", "type": "quantitative", "scale": {"domain": [1.53, 4.55], "nice": false, "zero": false}, "axis": {"orient": "left", "values": [2.5,3.5,4.5], "labels": false, "ticks": false, "title": null, "gridColor": "#F2F2F2", "gridWidth": 0.6}},
"y2": {"field": "hi"}}},
{"data": {"name": "sm"}, "transform": [{"filter": "datum.p == 5"}], "mark": {"type": "line", "color": "#3366FF", "strokeWidth": 1.5, "interpolate": "monotone"},
"encoding": {
"x": {"field": "x", "type": "quantitative", "scale": {"domain": [0.38, 5.65], "nice": false, "zero": false}, "axis": null},
"y": {"field": "y", "type": "quantitative", "scale": {"domain": [1.53, 4.55], "nice": false, "zero": false}, "axis": null}}}
]}
]}
]
},
{"spacing": -2, "resolve": {"scale": {"color": "shared"}, "legend": {"color": "shared"}}, "vconcat": [
{"width": 297, "height": 15, "data": {"name": "strips"}, "transform": [{"filter": "datum.p == 3"}], "view": {"fill": "#D9D9D9", "stroke": "#333333"}, "mark": {"type": "text", "fontSize": 8.4, "color": "#1A1A1A", "clip": true, "font": "Liberation Sans"}, "encoding": {"text": {"field": "t"}}},
{"width": 297, "height": 254, "resolve": {"axis": {"x": "independent", "y": "independent"}}, "layer": [
{"data": {"name": "pts"}, "transform": [{"filter": "datum.p == 3"}], "mark": {"type": "circle", "size": 12, "opacity": 1},
"encoding": {
"x": {"field": "x", "type": "quantitative", "scale": {"domain": [0.38, 5.65], "nice": false, "zero": false}, "axis": {"values": [1,2,3,4,5], "labelExpr": "['','Sploh ne','Ne','Niti ja, niti ne','Ja','Zelo ja'][datum.value]", "labelOverlap": false, "labelFlush": false, "title": null}},
"y": {"field": "y", "type": "quantitative", "scale": {"domain": [1.53, 4.55], "nice": false, "zero": false}, "axis": {"values": [2,3,4], "labels": false, "ticks": false, "title": null}},
"color": {"field": "o", "type": "quantitative", "scale": {"domain": [1,5], "range": ["#132B43","#56B1F7"], "interpolate": "lab"}, "legend": {"title": "Ocena", "values": [1,2,3,4,5]}}}},
{"data": {"name": "sm"}, "transform": [{"filter": "datum.p == 3"}], "mark": {"type": "area", "color": "#999999", "opacity": 0.4, "interpolate": "monotone"},
"encoding": {
"x": {"field": "x", "type": "quantitative", "scale": {"domain": [0.38, 5.65], "nice": false, "zero": false}, "axis": {"orient": "bottom", "values": [0.5,1.5,2.5,3.5,4.5,5.5], "labels": false, "ticks": false, "title": null, "gridColor": "#F2F2F2", "gridWidth": 0.6}},
"y": {"field": "lo", "type": "quantitative", "scale": {"domain": [1.53, 4.55], "nice": false, "zero": false}, "axis": {"orient": "left", "values": [2.5,3.5,4.5], "labels": false, "ticks": false, "title": null, "gridColor": "#F2F2F2", "gridWidth": 0.6}},
"y2": {"field": "hi"}}},
{"data": {"name": "sm"}, "transform": [{"filter": "datum.p == 3"}], "mark": {"type": "line", "color": "#3366FF", "strokeWidth": 1.5, "interpolate": "monotone"},
"encoding": {
"x": {"field": "x", "type": "quantitative", "scale": {"domain": [0.38, 5.65], "nice": false, "zero": false}, "axis": null},
"y": {"field": "y", "type": "quantitative", "scale": {"domain": [1.53, 4.55], "nice": false, "zero": false}, "axis": null}}}
]}
]}
],
"config": {
"font": "Liberation Sans",
"view": {"stroke": "#333333", "strokeWidth": 1},
"axis": {"labelFont": "Liberation Sans", "labelFontSize": 8, "labelColor": "#4D4D4D", "tickColor": "#333333", "tickSize": 3, "labelPadding": 2, "domain": false, "grid": true, "gridColor": "#EBEBEB", "gridWidth": 1, "titleFont": "Liberation Sans", "titleFontWeight": "normal", "titleFontSize": 11, "titleColor": "#000000"},
"legend": {"orient": "none", "legendX": 916, "legendY": 237, "gradientLength": 77, "gradientThickness": 15, "titleFont": "Liberation Sans", "titleFontSize": 11, "titleFontWeight": "normal", "titleColor": "#000000", "labelFont": "Liberation Sans", "labelFontSize": 8, "labelColor": "#000000", "titlePadding": 4, "labelOffset": 4, "gradientStrokeWidth": 0}
}
}
